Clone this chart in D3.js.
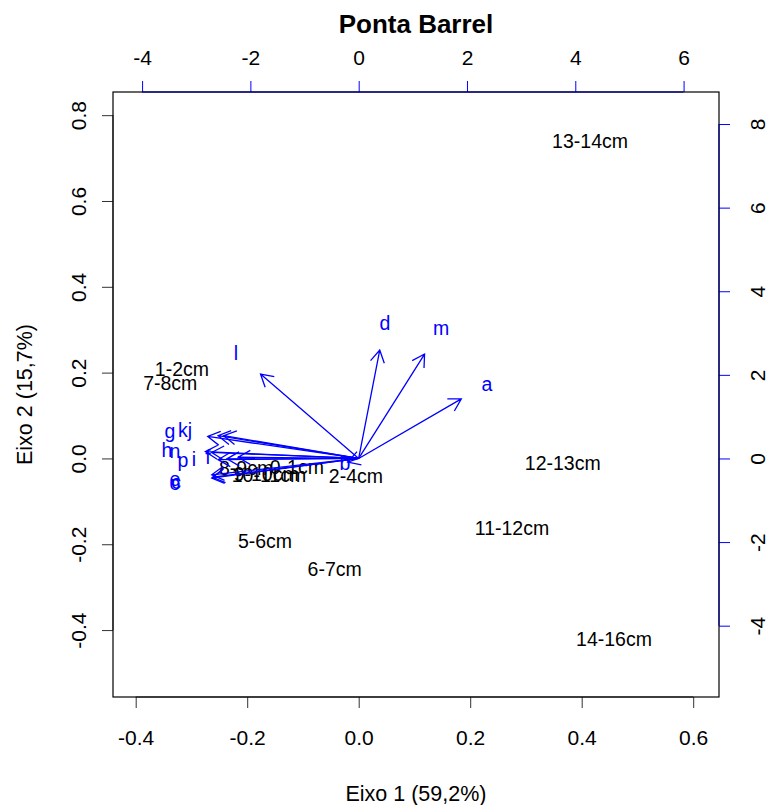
<!DOCTYPE html>
<html>
<head>
<meta charset="utf-8">
<script src="https://cdn.jsdelivr.net/npm/d3@7"></script>
<style>
  html, body { margin: 0; padding: 0; background: #fff; }
  svg { display: block; font-family: "Liberation Sans", Arial, Helvetica, sans-serif; }
</style>
</head>
<body>
<svg id="chart" width="768" height="805"></svg>
<script>
// Sample scores (depth intervals) on the first two axes
const obsLabels = ["13-14cm", "1-2cm", "7-8cm", "12-13cm", "11-12cm", "5-6cm", "6-7cm",
                   "14-16cm", "2-4cm", "8-9cm", "0-1cm", "10-11cm", "9-10cm"];
const obsX = [0.415, -0.317, -0.338, 0.366, 0.275, -0.168, -0.043,
              0.458, -0.005, -0.202, -0.111, -0.161, -0.166];
const obsY = [0.740, 0.209, 0.176, -0.0105, -0.162, -0.192, -0.258,
              -0.421, -0.041, -0.022, -0.020, -0.038, -0.036];

// Variable loadings (drawn as arrows)
const varLabels = ["a", "b", "c", "d", "e", "f", "g", "h", "i", "j", "k", "l", "m", "n", "o", "p"];
const varX = [2.369, -0.253, -3.372, 0.486, -3.392, -2.783, -3.485, -3.540,
              -3.041, -3.115, -3.245, -2.266, 1.521, -3.392, -3.392, -3.245];
const varY = [1.782, -0.108, -0.562, 3.242, -0.490, 0.036, 0.658, 0.203,
              -0.012, 0.682, 0.682, 2.524, 3.122, 0.179, -0.586, -0.036];

// Tick values
const bottomTicks = [-0.4, -0.2, 0.0, 0.2, 0.4, 0.6];
const leftTicks = [-0.4, -0.2, 0.0, 0.2, 0.4, 0.6, 0.8];
const topTicks = [-4, -2, 0, 2, 4, 6];
const rightTicks = [-4, -2, 0, 2, 4, 6, 8];

const title = "Ponta Barrel";
const xTitle = "Eixo 1 (59,2%)";
const yTitle = "Eixo 2 (15,7%)";

const BLUE = "#0000ff";
const box = { left: 113, right: 719, top: 92, bottom: 697 };

// plain hyphen-minus in tick labels
const fmt1 = d => d3.format(".1f")(d).replace("\u2212", "-");
const fmt0 = d => d3.format("d")(d).replace("\u2212", "-");

const svg = d3.select("#chart");

const x = d3.scaleLinear().domain([-0.4407, 0.6463]).range([box.left, box.right]);
const y = d3.scaleLinear().domain([-0.556, 0.854]).range([box.bottom, box.top]);
const x2 = d3.scaleLinear().domain([-4.537, 6.654]).range([box.left, box.right]);
const y2 = d3.scaleLinear().domain([-5.706, 8.766]).range([box.bottom, box.top]);

const tickLen = 11;
const tickFont = 21;

// Bottom axis
const gb = svg.append("g").attr("transform", `translate(0,${box.bottom})`)
  .call(d3.axisBottom(x).tickValues(bottomTicks).tickFormat(fmt1)
        .tickSizeInner(tickLen).tickSizeOuter(0).tickPadding(22));
gb.select(".domain").attr("d", `M${x(bottomTicks[0])},0H${x(bottomTicks[bottomTicks.length - 1])}`)
  .attr("stroke", "#333");
gb.selectAll(".tick line").attr("stroke", "#333");
gb.selectAll(".tick text").attr("font-size", tickFont).attr("font-family", "Liberation Sans, Arial, sans-serif").attr("fill", "#000");

// Left axis (labels rotated)
const gl = svg.append("g").attr("transform", `translate(${box.left},0)`)
  .call(d3.axisLeft(y).tickValues(leftTicks).tickFormat(fmt1)
        .tickSizeInner(tickLen).tickSizeOuter(0));
gl.select(".domain").attr("d", `M0,${y(leftTicks[0])}V${y(leftTicks[leftTicks.length - 1])}`)
  .attr("stroke", "#333");
gl.selectAll(".tick line").attr("stroke", "#333");
gl.selectAll(".tick text")
  .attr("font-size", tickFont).attr("fill", "#000")
  .attr("x", null).attr("dy", null)
  .attr("text-anchor", "middle")
  .attr("dominant-baseline", "central")
  .attr("transform", "translate(-35,0) rotate(-90)");

// Top axis (variable scale)
const gt = svg.append("g").attr("transform", `translate(0,${box.top})`)
  .call(d3.axisTop(x2).tickValues(topTicks).tickFormat(fmt0)
        .tickSizeInner(tickLen).tickSizeOuter(0).tickPadding(16));
gt.select(".domain").attr("d", `M${x2(topTicks[0])},0H${x2(topTicks[topTicks.length - 1])}`)
  .attr("stroke", BLUE);
gt.selectAll(".tick line").attr("stroke", BLUE);
gt.selectAll(".tick text").attr("font-size", tickFont).attr("fill", "#000");

// Right axis (variable scale, labels rotated)
const gr = svg.append("g").attr("transform", `translate(${box.right},0)`)
  .call(d3.axisRight(y2).tickValues(rightTicks).tickFormat(fmt0)
        .tickSizeInner(tickLen).tickSizeOuter(0));
gr.select(".domain").attr("d", `M0,${y2(rightTicks[0])}V${y2(rightTicks[rightTicks.length - 1])}`)
  .attr("stroke", BLUE);
gr.selectAll(".tick line").attr("stroke", BLUE);
gr.selectAll(".tick text")
  .attr("font-size", tickFont).attr("fill", "#000")
  .attr("x", null).attr("dy", null)
  .attr("text-anchor", "middle")
  .attr("dominant-baseline", "central")
  .attr("transform", "translate(38,0) rotate(-90)");

// Plot frame
svg.append("rect")
  .attr("x", box.left).attr("y", box.top)
  .attr("width", box.right - box.left).attr("height", box.bottom - box.top)
  .attr("fill", "none").attr("stroke", "#000").attr("stroke-width", 1.2);
// blue axis lines show through the frame on the variable sides
svg.append("line").attr("x1", x2(topTicks[0])).attr("x2", x2(topTicks[topTicks.length - 1]))
  .attr("y1", box.top).attr("y2", box.top).attr("stroke", BLUE).attr("stroke-opacity", 0.35);
svg.append("line").attr("y1", y2(rightTicks[0])).attr("y2", y2(rightTicks[rightTicks.length - 1]))
  .attr("x1", box.right).attr("x2", box.right).attr("stroke", BLUE).attr("stroke-opacity", 0.35);

// Titles
svg.append("text").attr("x", (box.left + box.right) / 2).attr("y", 33)
  .attr("text-anchor", "middle").attr("font-size", 26).attr("font-weight", "bold")
  .text(title);
svg.append("text").attr("x", (box.left + box.right) / 2).attr("y", 801)
  .attr("text-anchor", "middle").attr("font-size", 21.5)
  .text(xTitle);
svg.append("text")
  .attr("transform", `translate(32,${(box.top + box.bottom) / 2}) rotate(-90)`)
  .attr("text-anchor", "middle").attr("font-size", 21.5)
  .text(yTitle);

// Observation labels
const obs = obsLabels.map((lab, i) => ({ lab, vx: obsX[i], vy: obsY[i] }));
svg.append("g").selectAll("text").data(obs).join("text")
  .attr("x", d => x(d.vx)).attr("y", d => y(d.vy))
  .attr("text-anchor", "middle").attr("dominant-baseline", "central")
  .attr("font-size", 19.5).attr("fill", "#000")
  .text(d => d.lab);

// Variable arrows drawn to 80% of the loading, labels at the loading itself
const vars = varLabels.map((lab, i) => ({ lab, vx: varX[i], vy: varY[i] }));
const ox = x2(0), oy = y2(0);
const headLen = 14, headAng = Math.PI / 6;
const ga = svg.append("g").attr("stroke", BLUE).attr("stroke-width", 1.3).attr("fill", "none");
vars.forEach(d => {
  const tx = x2(0.8 * d.vx), ty = y2(0.8 * d.vy);
  const ang = Math.atan2(ty - oy, tx - ox);
  const p = d3.path();
  p.moveTo(ox, oy); p.lineTo(tx, ty);
  p.moveTo(tx - headLen * Math.cos(ang - headAng), ty - headLen * Math.sin(ang - headAng));
  p.lineTo(tx, ty);
  p.lineTo(tx - headLen * Math.cos(ang + headAng), ty - headLen * Math.sin(ang + headAng));
  ga.append("path").attr("d", p.toString());
});
svg.append("g").selectAll("text").data(vars).join("text")
  .attr("x", d => x2(d.vx)).attr("y", d => y2(d.vy))
  .attr("text-anchor", "middle").attr("dominant-baseline", "central")
  .attr("font-size", 19.5).attr("fill", BLUE)
  .text(d => d.lab);
</script>
</body>
</html>
